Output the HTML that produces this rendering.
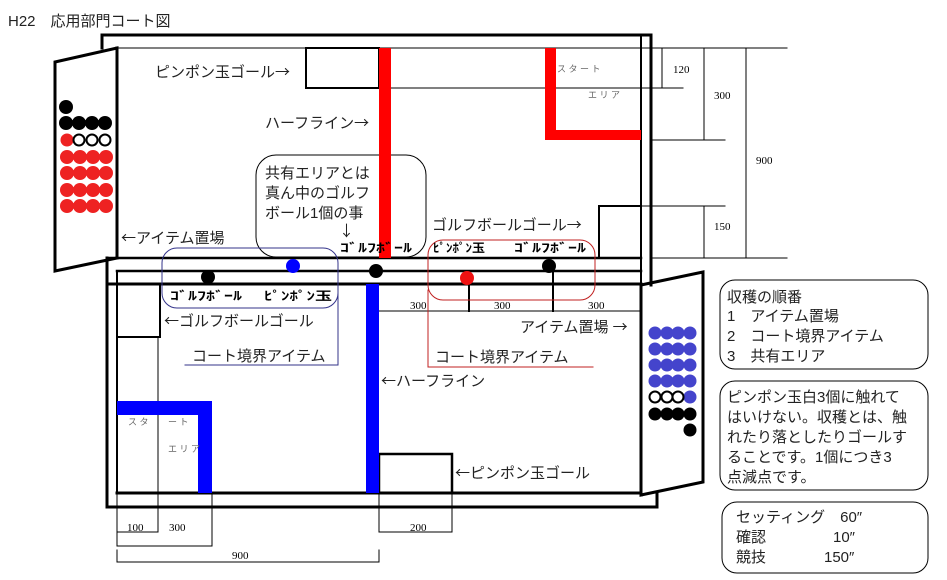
<!DOCTYPE html>
<html><head><meta charset="utf-8"><style>
html,body{margin:0;padding:0;background:#fff;}
svg{display:block;}
text{font-family:"Liberation Sans","Noto Sans CJK JP",sans-serif;}
.j{font-size:15px;fill:#222;}
.a{font-family:"Noto Sans CJK JP",sans-serif;}
.n{font-family:"Liberation Serif",serif;font-size:11px;fill:#000;}
.h{font-size:12px;font-weight:bold;fill:#000;font-family:"Noto Sans CJK JP",sans-serif;}
.g{font-size:9px;fill:#666;}
</style></head><body>
<svg width="947" height="580" viewBox="0 0 947 580" xmlns="http://www.w3.org/2000/svg">
<text x="8" y="26" class="j" style="font-size:15px">H22　応用部門コート図</text>
<g fill="none" stroke="#000" stroke-linecap="square">
<polyline points="102,48 102,35 651,35 651,285" stroke-width="3"/>
<line x1="641" y1="35" x2="641" y2="285" stroke-width="2"/>
<line x1="117" y1="48" x2="787" y2="48" stroke-width="1"/>
<line x1="117" y1="48" x2="117" y2="258" stroke-width="3"/>
<polygon points="55,62 117,48 117,258 55,271" stroke-width="3"/>
<line x1="107" y1="258" x2="641" y2="258" stroke-width="2.5"/>
<line x1="117" y1="271" x2="641" y2="271" stroke-width="2.5"/>
<line x1="107" y1="284" x2="641" y2="284" stroke-width="3"/>
<polyline points="107,258 107,507 657,507 657,493" stroke-width="3"/>
<line x1="117" y1="271" x2="117" y2="493" stroke-width="2"/>
<line x1="117" y1="493" x2="641" y2="493" stroke-width="3"/>
<line x1="641" y1="284" x2="641" y2="495" stroke-width="3"/>
<polygon points="641,285 703,272 703,482 641,495" stroke-width="3"/>
<rect x="306" y="48" width="73" height="40" stroke-width="2"/>
<polyline points="599,258 599,206 641,206" stroke-width="2"/>
<rect x="117" y="284" width="43" height="53" stroke-width="2"/>
<rect x="379" y="454" width="73" height="39" stroke-width="2.5"/>
<g stroke-width="1">
<line x1="391" y1="88" x2="683" y2="88"/>
<line x1="651" y1="140" x2="725" y2="140"/>
<line x1="599" y1="206" x2="725" y2="206"/>
<line x1="651" y1="258" x2="787" y2="258"/>
<line x1="662" y1="48" x2="662" y2="88"/>
<line x1="704" y1="48" x2="704" y2="140"/>
<line x1="746" y1="48" x2="746" y2="258"/>
<line x1="704" y1="206" x2="704" y2="258"/>
<line x1="379" y1="311" x2="641" y2="311"/>
<line x1="469" y1="284" x2="469" y2="311" stroke-width="2"/>
<line x1="553" y1="270" x2="553" y2="311" stroke-width="2"/>
<line x1="158" y1="337" x2="158" y2="532"/>
<line x1="117" y1="493" x2="117" y2="546"/>
<line x1="117" y1="532" x2="158" y2="532"/>
<line x1="212" y1="493" x2="212" y2="546"/>
<line x1="117" y1="546" x2="212" y2="546"/>
<line x1="379" y1="493" x2="379" y2="532"/>
<line x1="452" y1="493" x2="452" y2="532"/>
<line x1="379" y1="532" x2="452" y2="532"/>
<polyline points="117,550 117,562 379,562 379,550"/>
</g>
<rect x="256" y="155" width="170" height="102" rx="20" stroke-width="1"/>
<rect x="162" y="248" width="176" height="60" rx="15" stroke="#33338a" stroke-width="1"/>
<polyline points="338,290 338,365 185,365" stroke="#33338a" stroke-width="1"/>
<rect x="428" y="240" width="167" height="60" rx="15" stroke="#c02020" stroke-width="1"/>
<polyline points="428,290 428,367 593,367" stroke="#c02020" stroke-width="1"/>
<rect x="720" y="280" width="208" height="89" rx="15" stroke-width="1"/>
<rect x="720" y="381" width="208" height="109" rx="15" stroke-width="1"/>
<rect x="722" y="502" width="206" height="71" rx="15" stroke-width="1"/>
</g>
<rect x="379" y="48" width="12" height="210" fill="#f00"/>
<polygon points="545,48 556,48 556,130 641,130 641,140 545,140" fill="#f00"/>
<rect x="366" y="284" width="13" height="209" fill="#00f"/>
<polygon points="117,401 212,401 212,493 198,493 198,415 117,415" fill="#00f"/>
<circle cx="208" cy="277" r="7" fill="#000"/>
<circle cx="293" cy="266" r="7" fill="#00f"/>
<circle cx="376" cy="271" r="7" fill="#000"/>
<circle cx="467" cy="278" r="7" fill="#e11"/>
<circle cx="549" cy="266" r="7" fill="#000"/>
<g>
<circle cx="66" cy="107" r="7" fill="#000"/>
<circle cx="66" cy="123" r="7" fill="#000"/><circle cx="79" cy="123" r="7" fill="#000"/><circle cx="92" cy="123" r="7" fill="#000"/><circle cx="105" cy="123" r="7" fill="#000"/>
<circle cx="67" cy="140" r="6.5" fill="#e22"/>
<circle cx="79" cy="140" r="5.5" fill="#fff" stroke="#000" stroke-width="2"/><circle cx="92" cy="140" r="5.5" fill="#fff" stroke="#000" stroke-width="2"/><circle cx="105" cy="140" r="5.5" fill="#fff" stroke="#000" stroke-width="2"/>
<g fill="#e22">
<circle cx="67" cy="157" r="7"/><circle cx="80" cy="157" r="7"/><circle cx="93" cy="157" r="7"/><circle cx="106" cy="157" r="7"/>
<circle cx="67" cy="173" r="7"/><circle cx="80" cy="173" r="7"/><circle cx="93" cy="173" r="7"/><circle cx="106" cy="173" r="7"/>
<circle cx="67" cy="190" r="7"/><circle cx="80" cy="190" r="7"/><circle cx="93" cy="190" r="7"/><circle cx="106" cy="190" r="7"/>
<circle cx="67" cy="206" r="7"/><circle cx="80" cy="206" r="7"/><circle cx="93" cy="206" r="7"/><circle cx="106" cy="206" r="7"/>
</g>
</g>
<g fill="#4444cc">
<circle cx="655" cy="333" r="6.5"/><circle cx="667" cy="333" r="6.5"/><circle cx="678" cy="333" r="6.5"/><circle cx="690" cy="333" r="6.5"/>
<circle cx="655" cy="349" r="6.5"/><circle cx="667" cy="349" r="6.5"/><circle cx="678" cy="349" r="6.5"/><circle cx="690" cy="349" r="6.5"/>
<circle cx="655" cy="365" r="6.5"/><circle cx="667" cy="365" r="6.5"/><circle cx="678" cy="365" r="6.5"/><circle cx="690" cy="365" r="6.5"/>
<circle cx="655" cy="381" r="6.5"/><circle cx="667" cy="381" r="6.5"/><circle cx="678" cy="381" r="6.5"/><circle cx="690" cy="381" r="6.5"/>
<circle cx="690" cy="397" r="6.5"/>
</g>
<circle cx="655" cy="397" r="5.5" fill="#fff" stroke="#000" stroke-width="2"/><circle cx="667" cy="397" r="5.5" fill="#fff" stroke="#000" stroke-width="2"/><circle cx="678" cy="397" r="5.5" fill="#fff" stroke="#000" stroke-width="2"/>
<g fill="#000">
<circle cx="655" cy="414" r="6.5"/><circle cx="667" cy="414" r="6.5"/><circle cx="678" cy="414" r="6.5"/><circle cx="690" cy="414" r="6.5"/>
<circle cx="690" cy="430" r="6.5"/>
</g>
<text x="155" y="77" class="j">ピンポン玉ゴール<tspan class="a">→</tspan></text>
<text x="265" y="128" class="j">ハーフライン<tspan class="a">→</tspan></text>
<text x="265" y="178" class="j">共有エリアとは</text>
<text x="265" y="198" class="j">真ん中のゴルフ</text>
<text x="265" y="218" class="j">ボール1個の事</text>
<text x="339" y="236" class="j a">↓</text>
<text x="340" y="252" class="h" textLength="72" lengthAdjust="spacingAndGlyphs">ｺﾞﾙﾌﾎﾞｰﾙ</text>
<text x="433" y="252" class="h" textLength="52" lengthAdjust="spacingAndGlyphs">ﾋﾟﾝﾎﾟﾝ玉</text>
<text x="514" y="252" class="h" textLength="72" lengthAdjust="spacingAndGlyphs">ｺﾞﾙﾌﾎﾞｰﾙ</text>
<text x="432" y="230" class="j">ゴルフボールゴール<tspan class="a">→</tspan></text>
<text x="121" y="243" class="j"><tspan class="a">←</tspan>アイテム置場</text>
<text x="170" y="300" class="h" textLength="72" lengthAdjust="spacingAndGlyphs">ｺﾞﾙﾌﾎﾞｰﾙ</text>
<text x="264" y="300" class="h" textLength="68" lengthAdjust="spacingAndGlyphs">ﾋﾟﾝﾎﾟﾝ玉</text>
<text x="164" y="326" class="j"><tspan class="a">←</tspan>ゴルフボールゴール</text>
<text x="192" y="361" class="j">コート境界アイテム</text>
<text x="435" y="362" class="j">コート境界アイテム</text>
<text x="520" y="332" class="j">アイテム置場 <tspan class="a">→</tspan></text>
<text x="381" y="386" class="j"><tspan class="a">←</tspan>ハーフライン</text>
<text x="455" y="478" class="j"><tspan class="a">←</tspan>ピンポン玉ゴール</text>
<text x="557" y="72" class="g">ス タ ー ト</text>
<text x="588" y="98" class="g">エ リ ア</text>
<text x="128" y="425" class="g">ス タ</text>
<text x="168" y="425" class="g">ー ト</text>
<text x="168" y="452" class="g">エ リ ア</text>
<text x="673" y="73" class="n">120</text>
<text x="714" y="99" class="n">300</text>
<text x="756" y="164" class="n">900</text>
<text x="714" y="230" class="n">150</text>
<text x="410" y="309" class="n">300</text>
<text x="494" y="309" class="n">300</text>
<text x="588" y="309" class="n">300</text>
<text x="127" y="531" class="n">100</text>
<text x="169" y="531" class="n">300</text>
<text x="410" y="531" class="n">200</text>
<text x="232" y="559" class="n">900</text>
<text x="727" y="302" class="j">収穫の順番</text>
<text x="727" y="321" class="j">1　アイテム置場</text>
<text x="727" y="341" class="j">2　コート境界アイテム</text>
<text x="727" y="361" class="j">3　共有エリア</text>
<text x="727" y="402" class="j">ピンポン玉白3個に触れて</text>
<text x="727" y="422" class="j">はいけない。収穫とは、触</text>
<text x="727" y="442" class="j">れたり落としたりゴールす</text>
<text x="727" y="462" class="j">ることです。1個につき3</text>
<text x="727" y="482" class="j">点減点です。</text>
<text x="736" y="522" class="j">セッティング　60″</text>
<text x="736" y="542" class="j">確認</text><text x="833" y="542" class="j">10″</text>
<text x="736" y="562" class="j">競技</text><text x="824" y="562" class="j">150″</text>
</svg>
</body></html>
